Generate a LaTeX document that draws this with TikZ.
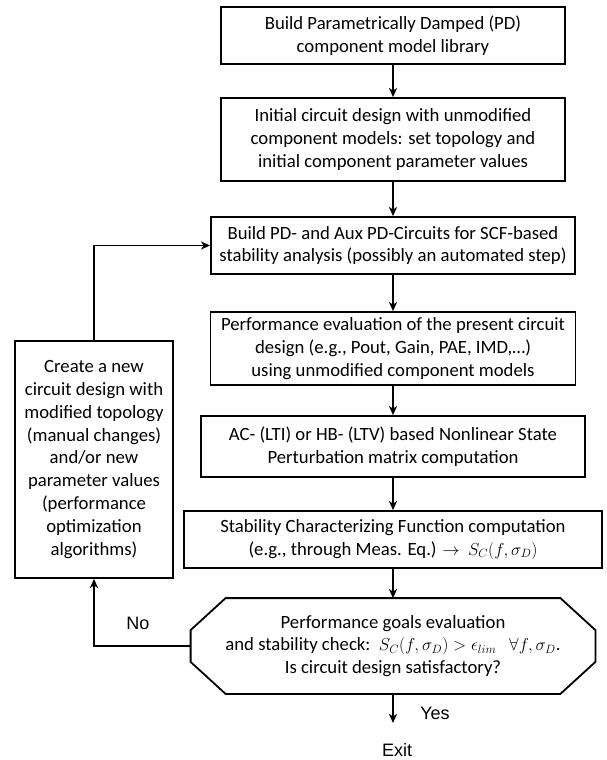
\documentclass[tikz,border=0pt]{standalone}
\usepackage{fontspec}
\setmainfont{Carlito}
\newfontfamily\arialfont{Liberation Sans}
\usetikzlibrary{arrows.meta}
\tikzset{
  stepbox/.style={draw, line width=1.8pt, align=center, inner sep=0pt,
    font=\fontsize{18.7}{22.8}\selectfont},
  decbox/.style={stepbox, draw=none},
  flow/.style={line width=1.8pt, -{Stealth[length=9pt,width=8pt,inset=2.5pt]}},
  plain/.style={inner sep=0pt, font=\arialfont\fontsize{18}{21}\selectfont}
}
\begin{document}
\begin{tikzpicture}[x=1pt,y=-1pt]
\useasboundingbox (0,0) rectangle (607,760);
% main column
\node[stepbox, minimum width=344pt, minimum height=57pt] (lib) at (393,35.5)
  {Build Parametrically Damped (PD)\\component model library};
\node[stepbox, minimum width=344pt, minimum height=83pt] (init) at (393,139.5)
  {Initial circuit design with unmodified\\component models: set topology and\\initial component parameter values};
\node[stepbox, minimum width=364pt, minimum height=57pt] (aux) at (393,245.5)
  {Build PD- and Aux PD-Circuits for SCF-based\\stability analysis (possibly an automated step)};
\node[stepbox, minimum width=365pt, minimum height=73pt] (perf) at (393,348.5)
  {Performance evaluation of the present circuit\\design (e.g., Pout, Gain, PAE, IMD,\dots)\\using unmodified component models};
\node[stepbox, minimum width=384pt, minimum height=61pt] (nsp) at (393,446.5)
  {AC- (LTI) or HB- (LTV) based Nonlinear State\\Perturbation matrix computation};
\node[stepbox, minimum width=418pt, minimum height=57pt] (scf) at (393,539.5)
  {Stability Characterizing Function computation\\(e.g., through Meas. Eq.) $\rightarrow$\ \ $S_C(f,\sigma_D)$};
\node[decbox, minimum width=403pt, minimum height=94pt] (check) at (393,646)
  {Performance goals evaluation\\and stability check:\ \ $S_C(f,\sigma_D)>\epsilon_{lim}\ \ \ \forall f,\sigma_D$.\\Is circuit design satisfactory?};
% octagon outline of the decision
\draw[line width=1.8pt, line join=miter] ([xshift=35pt]check.north west) -- ([xshift=-35pt]check.north east)
  -- ([yshift=-32pt]check.north east) -- ([yshift=32pt]check.south east)
  -- ([xshift=-35pt]check.south east) -- ([xshift=35pt]check.south west)
  -- ([yshift=32pt]check.south west) -- ([yshift=-32pt]check.north west) -- cycle;
% feedback box
\node[stepbox, minimum width=158pt, minimum height=237pt] (redo) at (94,459.5)
  {Create a new\\circuit design with\\modified topology\\(manual changes)\\and/or new\\parameter values\\(performance\\optimization\\algorithms)};
\coordinate (done) at (393,723);
\node[plain] (yes) at (435,713) {Yes};
\node[plain] (exit) at (397,750) {Exit};
\node[plain] (no) at (138,623) {No};
\draw[flow] (lib) -- (init);
\draw[flow] (init) -- (aux);
\draw[flow] (aux) -- (perf);
\draw[flow] (perf) -- (nsp);
\draw[flow] (nsp) -- (scf);
\draw[flow] (scf) -- (check);
\draw[flow] (check) -- (done);
\draw[flow] (check.west) -| (redo.south);
\draw[flow] (redo.north) |- (aux.west);
\end{tikzpicture}
\end{document}
